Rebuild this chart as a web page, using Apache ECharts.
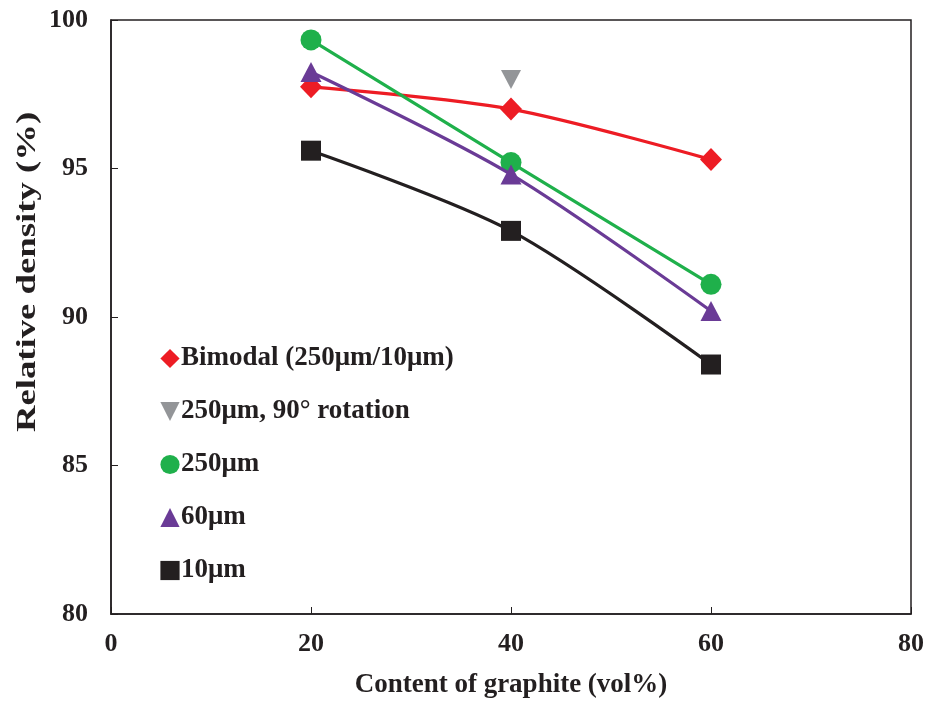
<!DOCTYPE html>
<html><head><meta charset="utf-8">
<script src="https://cdn.jsdelivr.net/npm/echarts@6/dist/echarts.min.js"></script>
<style>html,body{margin:0;padding:0;background:#fff}#c{width:927px;height:704px}</style>
</head><body><div id="c"></div>
<script>
var xCats = [20, 40, 60];
var bimodal = [97.75, 97.0, 95.3];
var rot90 = [null, 98.0, null];
var um250 = [99.33, 95.2, 91.1];
var um60 = [98.25, 94.8, 90.2];
var um10 = [95.6, 92.9, 88.4];
var names = ['Bimodal (250μm/10μm)', '250μm, 90° rotation', '250μm', '60μm', '10μm'];
var xTitle = 'Content of graphite (vol%)';
var yTitle = 'Relative density (%)';

function pairs(arr){ var r=[]; for(var i=0;i<xCats.length;i++){ if(arr[i]!==null) r.push([xCats[i], arr[i]]); } return r; }
var font = '"Liberation Serif", "Times New Roman", serif';
var ink = '#231f20';
var chart = echarts.init(document.getElementById('c'));
chart.setOption({
  animation:false,
  grid:{left:111, right:16, top:20, bottom:89, show:true, borderColor:ink, borderWidth:1.5, backgroundColor:'transparent'},
  xAxis:{type:'value', min:0, max:80, interval:20,
    name:xTitle, nameLocation:'middle', nameGap:58,
    nameTextStyle:{fontFamily:font, fontWeight:'bold', fontSize:27, color:ink},
    axisLine:{lineStyle:{color:ink, width:1.5}}, axisTick:{inside:true, length:7, lineStyle:{color:ink}},
    axisLabel:{fontFamily:font, fontWeight:'bold', fontSize:26, color:ink, margin:17},
    splitLine:{show:false}},
  yAxis:{type:'value', min:80, max:100, interval:5,
    axisLine:{show:true, lineStyle:{color:ink, width:1.5}}, axisTick:{show:true, inside:true, length:7, lineStyle:{color:ink}},
    axisLabel:{fontFamily:font, fontWeight:'bold', fontSize:26, color:ink, margin:23},
    splitLine:{show:false}},
  graphic:[{type:'text', x:28, y:272, rotation:Math.PI/2, scaleX:1.36,
    style:{text:yTitle, font:'bold 27px ' + font, fill:ink, align:'center', verticalAlign:'middle'}}],
  legend:{orient:'vertical', left:152, top:340, itemGap:26, itemWidth:24, itemHeight:24,
    lineStyle:{opacity:0},
    textStyle:{fontFamily:font, fontWeight:'bold', fontSize:27, color:ink, padding:[0,0,0,-6]},
    data:names},
  series:[
    {name:names[0], type:'line', data:pairs(bimodal), smooth:0.3, symbol:'diamond', symbolSize:[22,23],
      itemStyle:{color:'#ed1c24'}, lineStyle:{color:'#ed1c24', width:3.2}, z:3},
    {name:names[1], type:'line', data:pairs(rot90), symbol:'triangle', symbolRotate:180, symbolSize:[20,19],
      itemStyle:{color:'#939598'}, lineStyle:{width:0}, z:2},
    {name:names[2], type:'line', data:pairs(um250), smooth:0.3, symbol:'circle', symbolSize:21,
      itemStyle:{color:'#1fb04b'}, lineStyle:{color:'#1fb04b', width:3.2}, z:4},
    {name:names[3], type:'line', data:pairs(um60), smooth:0.3, symbol:'triangle', symbolSize:[21,20],
      itemStyle:{color:'#6a3b96'}, lineStyle:{color:'#6a3b96', width:3.2}, z:5},
    {name:names[4], type:'line', data:pairs(um10), smooth:0.3, symbol:'rect', symbolSize:20,
      itemStyle:{color:ink}, lineStyle:{color:ink, width:3.2}, z:6}
  ]
});
</script></body></html>
